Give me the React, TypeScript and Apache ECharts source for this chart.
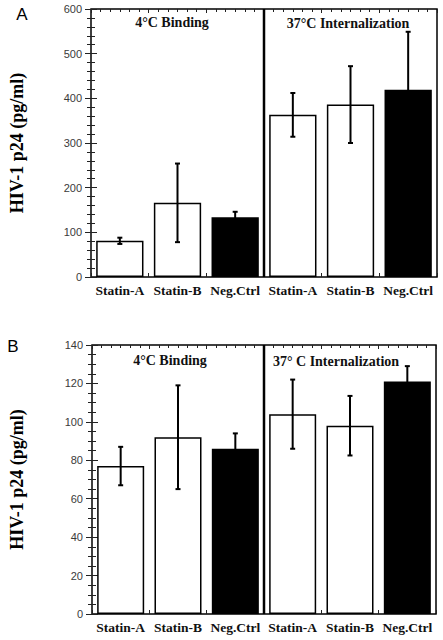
import React, { useEffect, useRef } from 'react';
import * as echarts from 'echarts';

const categories = ['Statin-A', 'Statin-B', 'Neg.Ctrl', 'Statin-A', 'Statin-B', 'Neg.Ctrl'];
const meansA = [81, 166, 134, 363, 386, 419];
const errorsA = [7, 88, 12, 49, 86, 130];
const meansB = [77, 92, 86, 104, 98, 121];
const errorsB = [10, 27, 8, 18, 15.5, 8];
const barFills = ['#ffffff', '#ffffff', '#000000', '#ffffff', '#ffffff', '#000000'];
const groupTitlesA = ['4°C Binding', '37°C Internalization'];
const groupTitlesB = ['4°C Binding', '37° C Internalization'];
const yAxisTitle = 'HIV-1 p24 (pg/ml)';
const panelLetters = ['A', 'B'];
const yMaxA = 600;
const yStepA = 100;
const yMaxB = 140;
const yStepB = 20;
// minor x tick scale (used only to draw frame ticks and the group divider)
const tickScaleMax = 36;
const tickScaleStep = 6;
const dividerAt = 18;

const SERIF = '"Liberation Serif", "Times New Roman", serif';
const SANS = '"Liberation Sans", Arial, sans-serif';

type Panel = {
  means: number[];
  errors: number[];
  yMax: number;
  yStep: number;
  yMinorSplit: number;
  grid: { left: number; right: number; top: number; height: number };
  nameGap: number;
};

function buildPanel(p: number, panel: Panel) {
  const grid = {
    left: panel.grid.left,
    right: panel.grid.right,
    top: panel.grid.top,
    height: panel.grid.height,
    show: true,
    borderColor: '#000',
    borderWidth: 1.5,
    backgroundColor: 'transparent',
  };
  const xAxes = [
    {
      type: 'category',
      gridIndex: p,
      data: categories,
      position: 'bottom',
      axisLine: { show: false },
      axisTick: { show: false },
      axisLabel: {
        show: true,
        margin: 6,
        fontFamily: SERIF,
        fontWeight: 'bold',
        fontSize: 13.5,
        color: '#111',
        interval: 0,
      },
      splitLine: { show: false },
    },
    {
      type: 'value',
      gridIndex: p,
      position: 'bottom',
      min: 0,
      max: tickScaleMax,
      interval: tickScaleStep,
      axisLine: { show: false },
      axisLabel: { show: false },
      axisTick: { show: true, inside: true, length: 4, lineStyle: { color: '#222', width: 1 } },
      minorTick: { show: true, splitNumber: 6, length: 3, lineStyle: { color: '#222', width: 1 } },
      splitLine: { show: false },
    },
    {
      type: 'value',
      gridIndex: p,
      position: 'top',
      min: 0,
      max: tickScaleMax,
      interval: tickScaleStep,
      axisLine: { show: false },
      axisLabel: { show: false },
      axisTick: { show: true, inside: true, length: 4, lineStyle: { color: '#222', width: 1 } },
      minorTick: { show: true, splitNumber: 6, length: 3, lineStyle: { color: '#222', width: 1 } },
      splitLine: { show: false },
    },
  ];
  const yAxes = [
    {
      type: 'value',
      gridIndex: p,
      position: 'left',
      min: 0,
      max: panel.yMax,
      interval: panel.yStep,
      name: yAxisTitle,
      nameLocation: 'middle',
      nameRotate: 90,
      nameGap: panel.nameGap,
      nameTextStyle: { fontFamily: SERIF, fontWeight: 'bold', fontSize: 18, color: '#000' },
      axisLine: { show: false },
      axisLabel: { show: true, margin: 9, fontFamily: SANS, fontSize: 11, color: '#3a3a3a' },
      axisTick: { show: true, inside: true, length: 6, lineStyle: { color: '#222', width: 1 } },
      minorTick: { show: true, splitNumber: panel.yMinorSplit, length: 4, lineStyle: { color: '#222', width: 1 } },
      splitLine: { show: false },
    },
    {
      type: 'value',
      gridIndex: p,
      position: 'right',
      min: 0,
      max: panel.yMax,
      interval: panel.yStep,
      axisLine: { show: false },
      axisLabel: { show: false },
      axisTick: { show: true, inside: true, length: 6, lineStyle: { color: '#222', width: 1 } },
      minorTick: { show: true, splitNumber: panel.yMinorSplit, length: 4, lineStyle: { color: '#222', width: 1 } },
      splitLine: { show: false },
    },
  ];
  const catIdx = p * 3;
  const tickIdx = p * 3 + 1;
  const yIdx = p * 2;
  const series = [
    {
      type: 'bar',
      xAxisIndex: catIdx,
      yAxisIndex: yIdx,
      barWidth: '82%',
      data: panel.means.map((v, i) => ({
        value: v,
        itemStyle: { color: barFills[i], borderColor: '#000', borderWidth: 1.5 },
      })),
      z: 2,
    },
    {
      type: 'custom',
      xAxisIndex: catIdx,
      yAxisIndex: yIdx,
      data: panel.means.map((v, i) => [i, v - panel.errors[i], v + panel.errors[i]]),
      encode: { x: 0, y: [1, 2] },
      renderItem: (params: any, api: any) => {
        const x = api.value(0);
        const lo = api.value(1);
        const hi = api.value(2);
        const t = api.coord([x, hi]);
        const b = api.coord([x, lo]);
        const w = 2.5;
        const style = { stroke: '#000', lineWidth: 2 };
        return {
          type: 'group',
          children: [
            { type: 'line', shape: { x1: t[0], y1: t[1], x2: b[0], y2: b[1] }, style },
            { type: 'line', shape: { x1: t[0] - w, y1: t[1], x2: t[0] + w, y2: t[1] }, style },
            { type: 'line', shape: { x1: b[0] - w, y1: b[1], x2: b[0] + w, y2: b[1] }, style },
          ],
        };
      },
      z: 3,
    },
    {
      type: 'line',
      xAxisIndex: tickIdx,
      yAxisIndex: yIdx,
      data: [
        [dividerAt, 0],
        [dividerAt, panel.yMax],
      ],
      symbol: 'none',
      lineStyle: { color: '#000', width: 2.5 },
      z: 4,
    },
  ];
  return { grid, xAxes, yAxes, series };
}

export default function App() {
  const ref = useRef<HTMLDivElement>(null);
  useEffect(() => {
    if (!ref.current) return;
    const chart = echarts.init(ref.current, undefined, { renderer: 'svg' });
    const a = buildPanel(0, {
      means: meansA,
      errors: errorsA,
      yMax: yMaxA,
      yStep: yStepA,
      yMinorSplit: 5,
      grid: { left: 80, right: 6, top: 9, height: 268 },
      nameGap: 65,
    });
    const b = buildPanel(1, {
      means: meansB,
      errors: errorsB,
      yMax: yMaxB,
      yStep: yStepB,
      yMinorSplit: 4,
      grid: { left: 78, right: 7, top: 345, height: 269 },
      nameGap: 66,
    });
    const titleStyle = { fontFamily: SERIF, fontWeight: 'bold', fontSize: 14, fill: '#111', textAlign: 'center', textVerticalAlign: 'middle' };
    chart.setOption({
      animation: false,
      backgroundColor: '#fff',
      grid: [a.grid, b.grid],
      xAxis: [...a.xAxes, ...b.xAxes],
      yAxis: [...a.yAxes, ...b.yAxes],
      series: [...a.series, ...b.series],
      graphic: [
        { type: 'text', x: 22, y: 14, style: { text: panelLetters[0], fontFamily: SANS, fontSize: 17, fill: '#000', textAlign: 'center', textVerticalAlign: 'middle' } },
        { type: 'text', x: 13, y: 346, style: { text: panelLetters[1], fontFamily: SANS, fontSize: 17, fill: '#000', textAlign: 'center', textVerticalAlign: 'middle' } },
        { type: 'text', x: 172, y: 22, style: { ...titleStyle, text: groupTitlesA[0] } },
        { type: 'text', x: 348, y: 23, style: { ...titleStyle, text: groupTitlesA[1] } },
        { type: 'text', x: 170, y: 360, style: { ...titleStyle, text: groupTitlesB[0] } },
        { type: 'text', x: 336, y: 361, style: { ...titleStyle, text: groupTitlesB[1] } },
      ],
    });
    return () => chart.dispose();
  }, []);
  return <div ref={ref} style={{ position: 'absolute', left: 0, top: 0, width: 443, height: 640 }} />;
}
